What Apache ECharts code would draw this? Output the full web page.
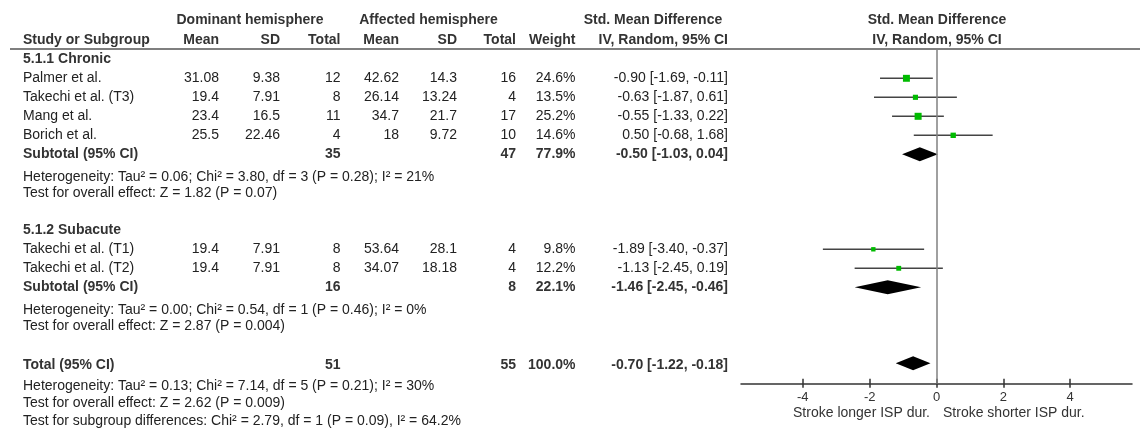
<!DOCTYPE html>
<html>
<head>
<meta charset="utf-8">
<script src="https://cdn.jsdelivr.net/npm/echarts@6/dist/echarts.min.js"></script>
<style>
  html, body { margin: 0; padding: 0; background: #fff; }
  #main { width: 1140px; height: 434px; }
</style>
</head>
<body>
<div id="main"></div>
<script>
// 数据
const groupNames = ['5.1.1 Chronic', '5.1.2 Subacute'];
const studyNames = ['Palmer et al.', 'Takechi et al. (T3)', 'Mang et al.', 'Borich et al.', 'Takechi et al. (T1)', 'Takechi et al. (T2)'];
const studyGroup = [0, 0, 0, 0, 1, 1];
const domMean = ['31.08', '19.4', '23.4', '25.5', '19.4', '19.4'];
const domSD = ['9.38', '7.91', '16.5', '22.46', '7.91', '7.91'];
const domTotal = [12, 8, 11, 4, 8, 8];
const affMean = ['42.62', '26.14', '34.7', '18', '53.64', '34.07'];
const affSD = ['14.3', '13.24', '21.7', '9.72', '28.1', '18.18'];
const affTotal = [16, 4, 17, 10, 4, 4];
const weights = [24.6, 13.5, 25.2, 14.6, 9.8, 12.2];
const smd = [-0.90, -0.63, -0.55, 0.50, -1.89, -1.13];
const ciLow = [-1.69, -1.87, -1.33, -0.68, -3.40, -2.45];
const ciHigh = [-0.11, 0.61, 0.22, 1.68, -0.37, 0.19];

// 亚组合计
const subDomTotal = [35, 16];
const subAffTotal = [47, 8];
const subWeight = ['77.9%', '22.1%'];
const subSmd = [-0.50, -1.46];
const subLow = [-1.03, -2.45];
const subHigh = [0.04, -0.46];
const subHetero = [
  'Heterogeneity: Tau² = 0.06; Chi² = 3.80, df = 3 (P = 0.28); I² = 21%',
  'Heterogeneity: Tau² = 0.00; Chi² = 0.54, df = 1 (P = 0.46); I² = 0%'
];
const subEffect = [
  'Test for overall effect: Z = 1.82 (P = 0.07)',
  'Test for overall effect: Z = 2.87 (P = 0.004)'
];

// 总计
const totalDom = 51;
const totalAff = 55;
const totalSmd = -0.70;
const totalLow = -1.22;
const totalHigh = -0.18;
const totalNotes = [
  'Heterogeneity: Tau² = 0.13; Chi² = 7.14, df = 5 (P = 0.21); I² = 30%',
  'Test for overall effect: Z = 2.62 (P = 0.009)',
  'Test for subgroup differences: Chi² = 2.79, df = 1 (P = 0.09), I² = 64.2%'
];

const tickVals = [-4, -2, 0, 2, 4];
const leftLabel = 'Stroke longer ISP dur.';
const rightLabel = 'Stroke shorter ISP dur.';

// 布局
const FONT = '"Liberation Sans", Arial, sans-serif';
const FS = 14;
const rowTop = 59.3, rowH = 19;
const colRight = [219, 280, 340.5, 399, 457, 516, 575.5, 728];
const nameX = 23;
function rowY(r) { return rowTop + rowH * r; }

let graphics = [];
function txt(s, x, y, align, bold, color) {
  graphics.push({
    type: 'text', x: x, y: y, silent: true,
    style: {
      text: s, x: 0, y: 0, align: align || 'left', verticalAlign: 'middle',
      font: (bold ? 'bold ' : '') + FS + 'px ' + FONT,
      fill: color || (bold ? '#333' : '#222')
    }
  });
}

// 表头
txt('Dominant hemisphere', 250, 20.5, 'center', true);
txt('Affected hemisphere', 428.5, 20.5, 'center', true);
txt('Std. Mean Difference', 653, 20.5, 'center', true);
txt('Std. Mean Difference', 937, 20.5, 'center', true);
txt('Study or Subgroup', nameX, 40, 'left', true);
['Mean', 'SD', 'Total', 'Mean', 'SD', 'Total', 'Weight', 'IV, Random, 95% CI'].forEach(function (h, i) {
  txt(h, colRight[i], 40, 'right', true);
});
txt('IV, Random, 95% CI', 937, 40, 'center', true);
graphics.push({
  type: 'line', silent: true,
  shape: { x1: 10, y1: 49, x2: 1140, y2: 49 },
  style: { stroke: '#555', lineWidth: 1.5 }
});

function ciText(m, l, h) {
  return m.toFixed(2) + ' [' + l.toFixed(2) + ', ' + h.toFixed(2) + ']';
}

// 森林图数据 [smd, low, high, row, weight, kind]
let plotData = [];
let r = 0;
groupNames.forEach(function (g, gi) {
  txt(g, nameX, rowY(r), 'left', true);
  r++;
  studyNames.forEach(function (name, i) {
    if (studyGroup[i] !== gi) return;
    const y = rowY(r);
    txt(name, nameX, y);
    [domMean[i], domSD[i], domTotal[i], affMean[i], affSD[i], affTotal[i], weights[i].toFixed(1) + '%', ciText(smd[i], ciLow[i], ciHigh[i])]
      .forEach(function (v, c) { txt(String(v), colRight[c], y, 'right'); });
    plotData.push([smd[i], ciLow[i], ciHigh[i], r, weights[i], 0]);
    r++;
  });
  const y = rowY(r);
  txt('Subtotal (95% CI)', nameX, y, 'left', true);
  txt(String(subDomTotal[gi]), colRight[2], y, 'right', true);
  txt(String(subAffTotal[gi]), colRight[5], y, 'right', true);
  txt(subWeight[gi], colRight[6], y, 'right', true);
  txt(ciText(subSmd[gi], subLow[gi], subHigh[gi]), colRight[7], y, 'right', true);
  plotData.push([subSmd[gi], subLow[gi], subHigh[gi], r, 0, 1]);
  txt(subHetero[gi], nameX, y + 23);
  txt(subEffect[gi], nameX, y + 39);
  r += 4;
});
(function () {
  const y = rowY(r);
  txt('Total (95% CI)', nameX, y + 1.5, 'left', true);
  txt(String(totalDom), colRight[2], y + 1.5, 'right', true);
  txt(String(totalAff), colRight[5], y + 1.5, 'right', true);
  txt('100.0%', colRight[6], y + 1.5, 'right', true);
  txt(ciText(totalSmd, totalLow, totalHigh), colRight[7], y + 1.5, 'right', true);
  plotData.push([totalSmd, totalLow, totalHigh, r, 0, 1]);
  txt(totalNotes[0], nameX, y + 23);
  txt(totalNotes[1], nameX, y + 39.5);
  txt(totalNotes[2], nameX, y + 57.5);
})();

txt(leftLabel, 930, 413, 'right', false, '#333');
txt(rightLabel, 943, 413, 'left', false, '#333');

const gridTop = 48, gridBottomY = 383.7;
const xMin = -5.85, xMax = 5.85;

let chart = echarts.init(document.getElementById('main'), null, { renderer: 'canvas' });
chart.setOption({
  animation: false,
  grid: { left: 741, right: 8, top: gridTop, bottom: 434 - gridBottomY, containLabel: false },
  xAxis: [{
    type: 'value', min: xMin, max: xMax, position: 'bottom',
    axisLine: { onZero: false, lineStyle: { color: '#333', width: 1.5 } },
    axisTick: { customValues: tickVals, length: 4, lineStyle: { color: '#333', width: 1.5 } },
    axisLabel: { customValues: tickVals, margin: 7, color: '#333', fontSize: 13, fontFamily: FONT },
    splitLine: { show: false }
  }, {
    // 刻度向上的部分
    type: 'value', min: xMin, max: xMax, position: 'top',
    offset: -(gridBottomY - gridTop),
    axisLine: { show: false, onZero: false },
    axisTick: { show: true, customValues: tickVals, length: 5, lineStyle: { color: '#333', width: 1.5 } },
    axisLabel: { show: false },
    splitLine: { show: false }
  }],
  yAxis: {
    type: 'value', inverse: true,
    min: (gridTop - rowTop) / rowH, max: (gridBottomY - rowTop) / rowH,
    show: false
  },
  series: [{
    type: 'custom',
    xAxisIndex: 0,
    clip: false,
    data: plotData,
    renderItem: function (params, api) {
      const y = api.coord([0, api.value(3)])[1];
      const xm = api.coord([api.value(0), 0])[0];
      const xl = api.coord([api.value(1), 0])[0];
      const xh = api.coord([api.value(2), 0])[0];
      if (api.value(5) === 1) {
        return {
          type: 'polygon',
          shape: { points: [[xl, y], [xm, y - 7], [xh, y], [xm, y + 7]] },
          style: { fill: '#000' }
        };
      }
      const s = 1.4 * Math.sqrt(api.value(4));
      return {
        type: 'group',
        children: [{
          type: 'line',
          shape: { x1: xl, y1: y, x2: xh, y2: y },
          style: { stroke: '#444', lineWidth: 1.5 }
        }, {
          type: 'rect',
          shape: { x: xm - s / 2, y: y - s / 2, width: s, height: s },
          style: { fill: '#00bb00' }
        }]
      };
    },
    markLine: {
      silent: true, symbol: 'none', label: { show: false },
      lineStyle: { color: '#808080', width: 1.5, type: 'solid' },
      data: [{ xAxis: 0 }]
    },
    z: 3
  }],
  graphic: graphics
});
</script>
</body>
</html>
